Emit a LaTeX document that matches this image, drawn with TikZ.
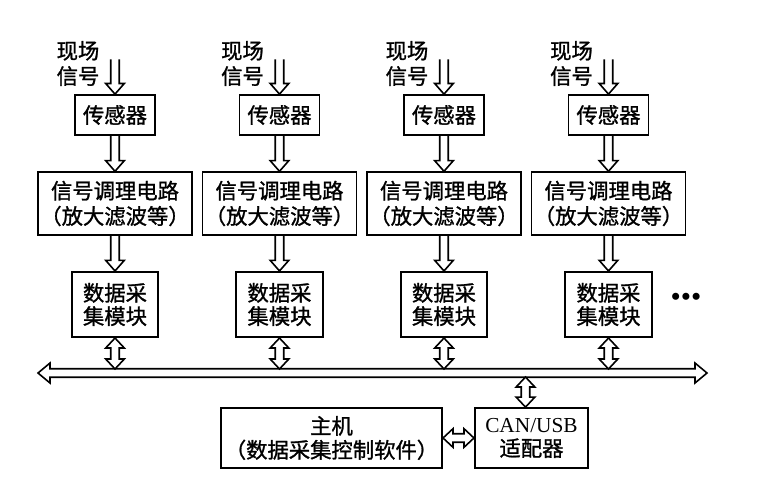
\documentclass[tikz,border=0pt]{standalone}
\usepackage{fontspec}
\setmainfont{Liberation Serif}
\newfontfamily\hei[FakeBold=1.2]{Noto Sans CJK SC}
\usetikzlibrary{calc}
\tikzset{
  box/.style={draw,line width=1.3pt,align=center,inner sep=0pt,font=\hei\fontsize{16}{19}\selectfont},
  lbl/.style={align=left,inner sep=0pt,font=\hei\fontsize{16}{19}\selectfont},
  tiplen/.store in=\tiplen, tipwid/.store in=\tipwid, shaftwid/.store in=\shaftwid,
  tiplen=8pt, tipwid=7pt, shaftwid=3.2pt,
  % hollow arrow, one head
  hollow/.style={line width=1.2pt,line join=miter,to path={
    let \p1=(\tikztostart), \p2=(\tikztotarget),
        \n1={atan2(\y2-\y1,\x2-\x1)}, \n2={veclen(\x2-\x1,\y2-\y1)} in
    ([shift={(\p1)},rotate=\n1]0pt,\shaftwid)
    -- ([shift={(\p1)},rotate=\n1]{\n2-\tiplen},\shaftwid)
    -- ([shift={(\p1)},rotate=\n1]{\n2-\tiplen},\tipwid)
    -- ([shift={(\p1)},rotate=\n1]\n2,0pt)
    -- ([shift={(\p1)},rotate=\n1]{\n2-\tiplen},-\tipwid)
    -- ([shift={(\p1)},rotate=\n1]{\n2-\tiplen},-\shaftwid)
    -- ([shift={(\p1)},rotate=\n1]0pt,-\shaftwid)}},
  % hollow arrow, two heads
  hollow2/.style={line width=1.2pt,line join=miter,to path={
    let \p1=(\tikztostart), \p2=(\tikztotarget),
        \n1={atan2(\y2-\y1,\x2-\x1)}, \n2={veclen(\x2-\x1,\y2-\y1)} in
    ([shift={(\p1)},rotate=\n1]\tiplen,\shaftwid)
    -- ([shift={(\p1)},rotate=\n1]{\n2-\tiplen},\shaftwid)
    -- ([shift={(\p1)},rotate=\n1]{\n2-\tiplen},\tipwid)
    -- ([shift={(\p1)},rotate=\n1]\n2,0pt)
    -- ([shift={(\p1)},rotate=\n1]{\n2-\tiplen},-\tipwid)
    -- ([shift={(\p1)},rotate=\n1]{\n2-\tiplen},-\shaftwid)
    -- ([shift={(\p1)},rotate=\n1]\tiplen,-\shaftwid)
    -- ([shift={(\p1)},rotate=\n1]\tiplen,-\tipwid)
    -- ([shift={(\p1)},rotate=\n1]0pt,0pt)
    -- ([shift={(\p1)},rotate=\n1]\tiplen,\tipwid) -- cycle}}
}
\begin{document}
\begin{tikzpicture}[x=0.75pt,y=-0.75pt]
\useasboundingbox (0,0) rectangle (758,500);
\coordinate (bustop) at (0,369);
\coordinate (busbot) at (0,377);
\foreach \i in {1,...,4}
{
    \pgfmathsetmacro{\cx}{115+164.5*(\i-1)}
    \node[box,minimum width=60pt,minimum height=30pt] (sense\i) at (\cx,115) {传感器};
    \node[box,minimum width=115.5pt,minimum height=47pt] (cond\i) at (\cx,203.5) {信号调理电路\\（放大滤波等）};
    \node[box,minimum width=65pt,minimum height=49pt,font=\hei\fontsize{16}{17.5}\selectfont] (daq\i) at (\cx,304.5) {数据采\\集模块};
    \node[lbl] (field\i) at (\cx-37,63.5) {现场\\信号};
    \coordinate (in\i) at ([yshift=26pt]sense\i.north);
    \draw[hollow] (in\i) to (sense\i.north);
    \draw[hollow] (sense\i.south) to (cond\i.north);
    \draw[hollow] (cond\i.south) to (daq\i.north);
    \draw[hollow2,tiplen=7.5pt] (daq\i.south) to (daq\i.south |- bustop);
}
\node[font=\fontsize{22}{22}\selectfont,inner sep=0pt] (more) at (686,300) {•••};
% bus
\coordinate (busL) at (38,373);
\coordinate (busR) at (707,373);
\draw[hollow2,tiplen=9pt,tipwid=7.5pt] (busL) to (busR);
\node[box,minimum width=166pt,minimum height=45pt,font=\hei\fontsize{16}{18}\selectfont] (host) at (331.5,438) {主机\\（数据采集控制软件）};
\node[box,minimum width=85pt,minimum height=45pt,font=\fontsize{16}{18}\selectfont] (can) at (531.5,438) {CAN/USB\\{\hei 适配器}};
\draw[hollow2,tiplen=7.5pt] ([xshift=-4.5pt]can.north) to ([xshift=-4.5pt]can.north |- busbot);
\draw[hollow2,tiplen=7.5pt] (host.east) to (can.west);
\end{tikzpicture}
\end{document}
